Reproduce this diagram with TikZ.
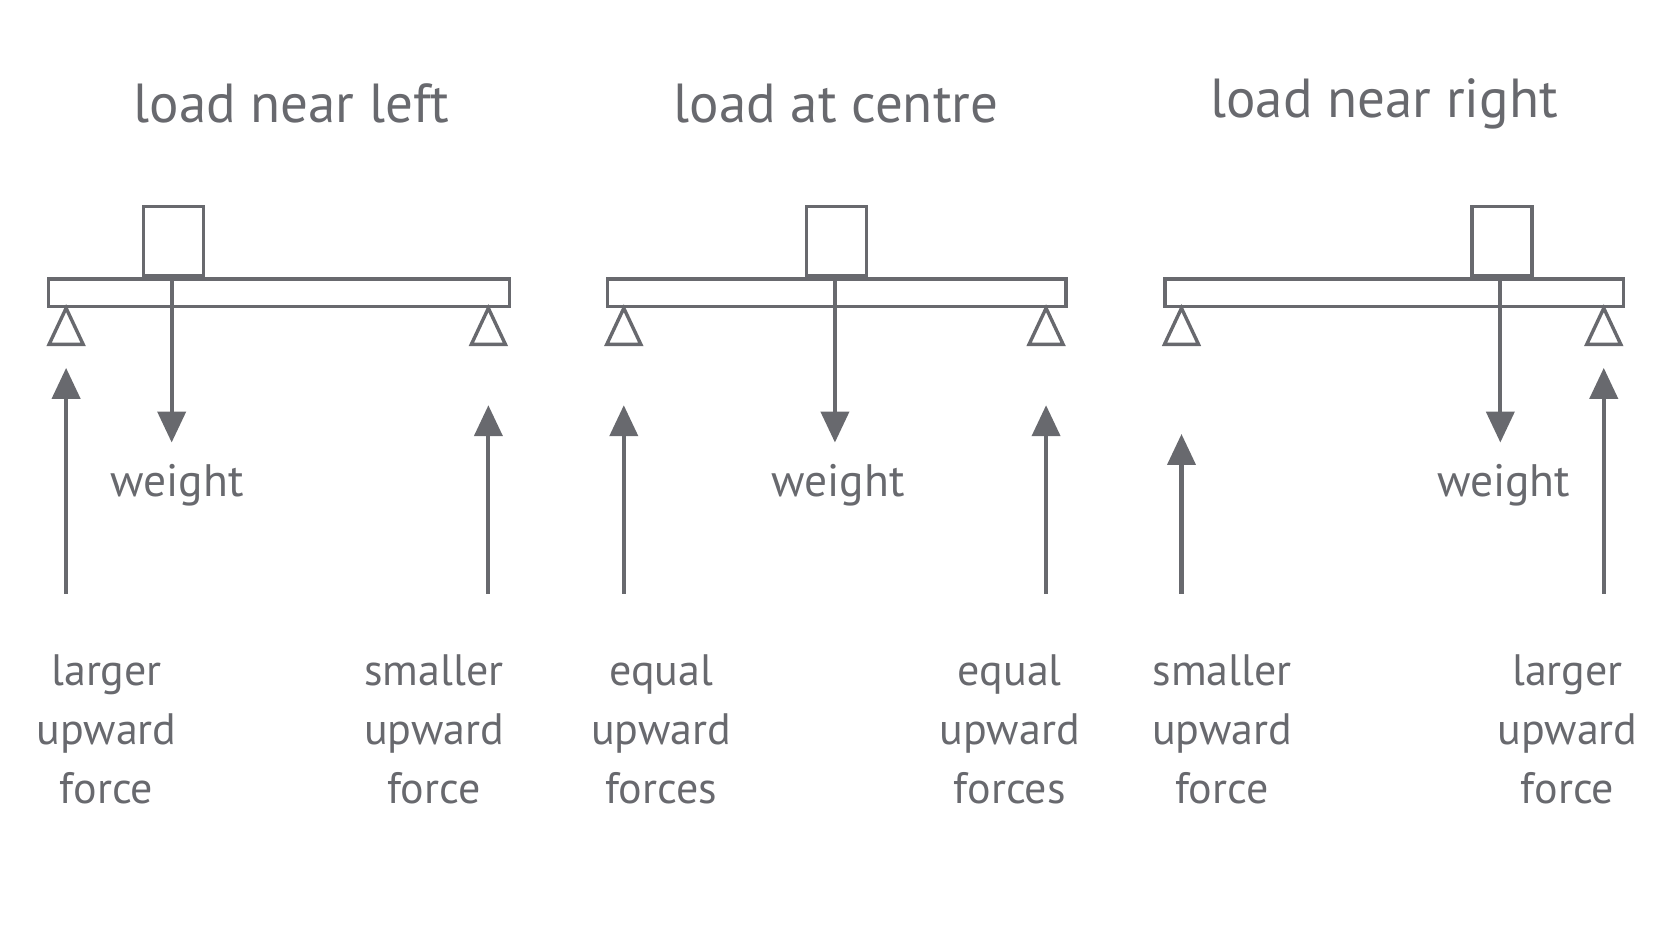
\documentclass[tikz,border=0pt]{standalone}
\usepackage{fontspec}
\setmainfont{PT Sans}
\usetikzlibrary{arrows.meta}
\definecolor{ink}{RGB}{104,105,110}
\begin{document}
\begin{tikzpicture}[x=1.0663pt,y=-1.0663pt,
  beam/.style={draw=ink,line width=3.4pt,fill=white},
  force/.style={draw=ink,line width=4.2pt,-{Triangle[length=31pt,width=28pt]}},
  lbl/.style={text=ink,font=\fontsize{44}{58.6}\selectfont,align=center,inner sep=0pt},
  wt/.style={text=ink,font=\fontsize{45.5}{55}\selectfont,inner sep=0pt},
  ttl/.style={text=ink,font=\fontsize{55}{60}\selectfont,inner sep=0pt}]
\useasboundingbox (0,0) rectangle (1568,882);
\foreach \i/\L/\R/\bl/\sl/\sr/\lx/\tl/\tr/\tt/\tx/\wl/\wx in {
 1/44/476/133/62/458/161/345/380/load near left/273/weight/166,
 2/568/998/755/585/981/783/380/380/load at centre/784/weight/786,
 3/1091/1521/1379/1108/1504/1407/407/345/load near right/1298/weight/1410}{
  \node[ttl] (t\i) at (\tx,97) {\tt};
  \node[beam,draw,rectangle,minimum width={(\R-\L)*1.0663pt},minimum height=27.7pt,inner sep=0pt,anchor=north west] (b\i) at (\L,260) {};
  \node[beam,draw,rectangle,minimum width=59.7pt,minimum height=69.3pt,inner sep=0pt,anchor=south west] (k\i) at (\bl,260) {};
  \draw[beam] (\sl,289) -- (\sl-16,323) -- (\sl+16,323) -- cycle;
  \draw[beam] (\sr,289) -- (\sr-16,323) -- (\sr+16,323) -- cycle;
  \coordinate (w\i) at (\lx,415);
  \draw[force] (\lx,262) -- (w\i);
  \coordinate (ls\i) at (\sl,557); \coordinate (le\i) at (\sl,\tl);
  \coordinate (rs\i) at (\sr,557); \coordinate (re\i) at (\sr,\tr);
  \draw[force] (ls\i) -- (le\i);
  \draw[force] (rs\i) -- (re\i);
  \node[wt] (wl\i) at (\wx,455) {\wl};
}
\node[lbl] (f1) at (100,684) {larger\\upward\\force};
\node[lbl] (f2) at (407,684) {smaller\\upward\\force};
\node[lbl] (f3) at (620,684) {equal\\upward\\forces};
\node[lbl] (f4) at (947,684) {equal\\upward\\forces};
\node[lbl] (f5) at (1146,684) {smaller\\upward\\force};
\node[lbl] (f6) at (1470,684) {larger\\upward\\force};
\end{tikzpicture}
\end{document}
